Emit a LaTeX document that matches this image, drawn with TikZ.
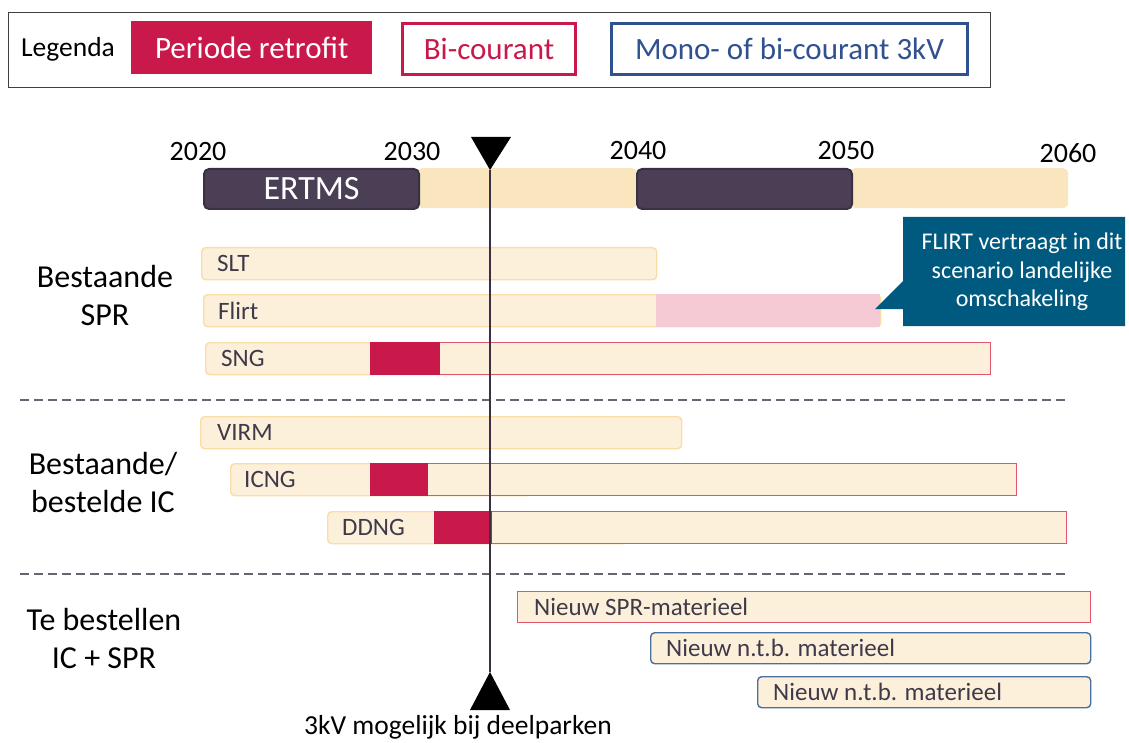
\documentclass[tikz,border=0pt]{standalone}
\usepackage{fontspec}
\setmainfont{Carlito}
\definecolor{crim}{HTML}{C8194A}
\definecolor{crimb}{HTML}{E0566F}
\definecolor{monob}{HTML}{2F5190}
\definecolor{ntbb}{HTML}{4A6E9E}
\definecolor{lfill}{HTML}{FDF0DB}
\definecolor{lbord}{HTML}{F8DEA6}
\definecolor{tfill}{HTML}{F9E5BE}
\definecolor{dark}{HTML}{4B3F55}
\definecolor{darkb}{HTML}{3A3042}
\definecolor{pink}{HTML}{F6CAD5}
\definecolor{call}{HTML}{005A80}
\definecolor{lbltxt}{HTML}{3F3A4A}
\definecolor{dashc}{HTML}{6B6372}
\begin{document}
\begin{tikzpicture}[x=1pt,y=-1pt,
  bar/.style={draw=lbord,fill=lfill,line width=1.4pt,rounded corners=4pt,anchor=north west,inner sep=0pt,minimum height=32pt},
  sq/.style={anchor=north west,inner sep=0pt,minimum height=32pt},
  lbl/.style={anchor=west,text=lbltxt,font=\fontsize{25}{27}\selectfont,inner sep=0pt},
  grp/.style={align=center,font=\fontsize{32}{38}\selectfont,inner sep=0pt},
  yr/.style={font=\fontsize{28}{30}\selectfont,inner sep=0pt},
  tl/.style={anchor=north west,inner sep=0pt,minimum height=40pt,rounded corners=5pt},
  sep/.style={draw=dashc,line width=1.2pt,dash pattern=on 9pt off 5pt},
  leg/.style={anchor=north west,inner sep=0pt,font=\fontsize{31}{33}\selectfont}
]
\useasboundingbox (0,0) rectangle (1129,743);
% legend
\node[draw=black!75,line width=1pt,anchor=north west,minimum width=982pt,minimum height=75pt,inner sep=0pt] (legbox) at (8,12) {};
\node[font=\fontsize{27.5}{29}\selectfont,inner sep=0pt] (legt) at (68,49) {Legenda};
\node[leg,fill=crim,text=white,minimum width=241pt,minimum height=53pt] (lr) at (131,21) {Periode retrofit};
\node[leg,draw=crim,line width=3pt,text=crim,fill=white,minimum width=173pt,minimum height=51pt] (lb) at (401,22) {Bi-courant};
\node[leg,draw=monob,line width=3pt,text=monob,fill=white,minimum width=356pt,minimum height=51pt] (lm) at (610,22) {Mono- of bi-courant 3kV};
% years
\node[yr] (y20) at (198,152) {2020};
\node[yr] (y30) at (412,152) {2030};
\node[yr] (y40) at (638,151) {2040};
\node[yr] (y50) at (846,151) {2050};
\node[yr] (y60) at (1068,153) {2060};
% timeline
\node[tl,fill=tfill,minimum width=220pt] (t2) at (417,168) {};
\node[tl,fill=tfill,minimum width=218pt] (t4) at (850,168) {};
\node[tl,fill=dark,draw=darkb,line width=2pt,minimum width=215pt,text=white,font=\fontsize{34}{36}\selectfont] (t1) at (203,168) {ERTMS};
\node[tl,fill=dark,draw=darkb,line width=2pt,minimum width=215pt] (t3) at (636,168) {};
% group labels
\node[grp] (g1) at (105,295) {Bestaande\\SPR};
\node[grp] (g2) at (103,483) {Bestaande/\\bestelde IC};
\node[grp] (g3) at (104,638) {Te bestellen\\IC + SPR};
% separators
\coordinate (s1a) at (20,400); \coordinate (s1b) at (1067,400);
\coordinate (s2a) at (20,574); \coordinate (s2b) at (1067,574);
\draw[sep] (s1a) -- (s1b);
\draw[sep] (s2a) -- (s2b);
% SPR rows
\node[bar,minimum width=455pt] (slt) at (201,247) {};
\node[lbl] (sltl) at ([xshift=16pt]slt.west) {SLT};
\node[bar,minimum width=677pt] (flirt) at (203,294) {};
\node[sq,fill=pink,minimum width=224pt,minimum height=33pt] (flirtp) at (656,293.5) {};
\node[lbl] (flirtl) at ([xshift=15pt]flirt.west) {Flirt};
\node[bar,minimum width=500pt] (sng) at (205,342) {};
\node[sq,draw=crimb,line width=1.4pt,fill=lfill,minimum width=620pt] (sngb) at (370,342) {};
\node[sq,fill=crim,minimum width=70pt,minimum height=33.4pt] (sngr) at (369.3,341.3) {};
\node[lbl] (sngl) at ([xshift=16pt]sng.west) {SNG};
% IC rows
\node[bar,minimum width=481pt] (virm) at (200,416) {};
\node[lbl] (virml) at ([xshift=17pt]virm.west) {VIRM};
\node[bar,minimum width=300pt] (icng) at (230,463) {};
\node[sq,draw=crimb,line width=1.4pt,fill=lfill,minimum width=646pt] (icngb) at (370,463) {};
\node[sq,fill=crim,minimum width=58pt,minimum height=33.4pt] (icngr) at (369.3,462.3) {};
\node[lbl] (icngl) at ([xshift=14pt]icng.west) {ICNG};
\node[bar,minimum width=300pt] (ddng) at (327,511) {};
\node[sq,draw=crimb,line width=1.4pt,fill=lfill,minimum width=632pt] (ddngb) at (434,511) {};
\node[sq,fill=crim,minimum width=58pt,minimum height=33.4pt] (ddngr) at (433.3,510.3) {};
\node[lbl] (ddngl) at ([xshift=15pt]ddng.west) {DDNG};
% new
\node[sq,draw=crimb,line width=1.4pt,fill=lfill,minimum width=573pt,minimum height=31pt] (nspr) at (517,591) {};
\node[lbl] (nsprl) at ([xshift=17pt]nspr.west) {Nieuw SPR-materieel};
\node[bar,draw=ntbb,minimum width=440pt,minimum height=31pt] (n1) at (650,632) {};
\node[lbl] (n1l) at ([xshift=16pt]n1.west) {Nieuw n.t.b. materieel};
\node[bar,draw=ntbb,minimum width=333pt,minimum height=31pt] (n2) at (757,676) {};
\node[lbl] (n2l) at ([xshift=16pt]n2.west) {Nieuw n.t.b. materieel};
% callout
\fill[call] (903,217) -- (1125,217) -- (1125,326) -- (903,326) -- (903,309) -- (875,309) -- (903,281) -- cycle;
\node[text=white,align=center,font=\fontsize{24}{28.5}\selectfont,inner sep=0pt] (callt) at (1022,272) {FLIRT vertraagt in dit\\scenario landelijke\\omschakeling};
% marker
\coordinate (mt) at (490,170);
\coordinate (mb) at (490,672);
\draw[line width=1.2pt,draw=darkb] (mt) -- (mb);
\fill[black] (471,137) -- (511,137) -- (mt) -- cycle;
\fill[black] (mb) -- (510,710) -- (470,710) -- cycle;
\node[font=\fontsize{27.5}{29}\selectfont,inner sep=0pt] (mtxt) at (458,727) {3kV mogelijk bij deelparken};
\end{tikzpicture}
\end{document}
